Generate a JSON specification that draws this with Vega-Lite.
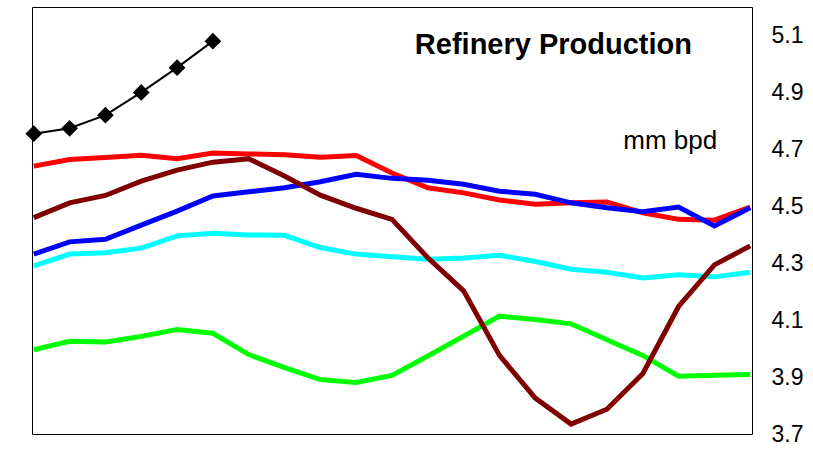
{
  "$schema": "https://vega.github.io/schema/vega-lite/v6.json",
  "width": 720,
  "height": 427,
  "autosize": "none",
  "padding": {"left": 32, "top": 7, "right": 61, "bottom": 15},
  "background": "white",
  "config": {"view": {"stroke": "black", "strokeWidth": 1}},
  "title": {"text": "Refinery Production", "anchor": "end", "frame": "group", "orient": "top", "offset": -76, "dx": -60, "baseline": "alphabetic", "fontSize": 29, "font": "Liberation Sans", "fontWeight": "bold", "color": "black"},
  "datasets": {
    "lines": [
      {"series": "green", "i": 0, "v": 3.996}, {"series": "green", "i": 1, "v": 4.026}, {"series": "green", "i": 2, "v": 4.023}, {"series": "green", "i": 3, "v": 4.043}, {"series": "green", "i": 4, "v": 4.067}, {"series": "green", "i": 5, "v": 4.054}, {"series": "green", "i": 6, "v": 3.979}, {"series": "green", "i": 7, "v": 3.933}, {"series": "green", "i": 8, "v": 3.891}, {"series": "green", "i": 9, "v": 3.881}, {"series": "green", "i": 10, "v": 3.906}, {"series": "green", "i": 11, "v": 3.974}, {"series": "green", "i": 12, "v": 4.044}, {"series": "green", "i": 13, "v": 4.114}, {"series": "green", "i": 14, "v": 4.102}, {"series": "green", "i": 15, "v": 4.087}, {"series": "green", "i": 16, "v": 4.031}, {"series": "green", "i": 17, "v": 3.976}, {"series": "green", "i": 18, "v": 3.903}, {"series": "green", "i": 19, "v": 3.906}, {"series": "green", "i": 20, "v": 3.909},
      {"series": "cyan", "i": 0, "v": 4.291}, {"series": "cyan", "i": 1, "v": 4.332}, {"series": "cyan", "i": 2, "v": 4.337}, {"series": "cyan", "i": 3, "v": 4.353}, {"series": "cyan", "i": 4, "v": 4.396}, {"series": "cyan", "i": 5, "v": 4.405}, {"series": "cyan", "i": 6, "v": 4.399}, {"series": "cyan", "i": 7, "v": 4.398}, {"series": "cyan", "i": 8, "v": 4.355}, {"series": "cyan", "i": 9, "v": 4.332}, {"series": "cyan", "i": 10, "v": 4.323}, {"series": "cyan", "i": 11, "v": 4.314}, {"series": "cyan", "i": 12, "v": 4.318}, {"series": "cyan", "i": 13, "v": 4.328}, {"series": "cyan", "i": 14, "v": 4.306}, {"series": "cyan", "i": 15, "v": 4.279}, {"series": "cyan", "i": 16, "v": 4.268}, {"series": "cyan", "i": 17, "v": 4.248}, {"series": "cyan", "i": 18, "v": 4.259}, {"series": "cyan", "i": 19, "v": 4.252}, {"series": "cyan", "i": 20, "v": 4.268},
      {"series": "red", "i": 0, "v": 4.641}, {"series": "red", "i": 1, "v": 4.664}, {"series": "red", "i": 2, "v": 4.671}, {"series": "red", "i": 3, "v": 4.679}, {"series": "red", "i": 4, "v": 4.667}, {"series": "red", "i": 5, "v": 4.687}, {"series": "red", "i": 6, "v": 4.684}, {"series": "red", "i": 7, "v": 4.681}, {"series": "red", "i": 8, "v": 4.672}, {"series": "red", "i": 9, "v": 4.678}, {"series": "red", "i": 10, "v": 4.617}, {"series": "red", "i": 11, "v": 4.565}, {"series": "red", "i": 12, "v": 4.547}, {"series": "red", "i": 13, "v": 4.522}, {"series": "red", "i": 14, "v": 4.507}, {"series": "red", "i": 15, "v": 4.512}, {"series": "red", "i": 16, "v": 4.515}, {"series": "red", "i": 17, "v": 4.477}, {"series": "red", "i": 18, "v": 4.454}, {"series": "red", "i": 19, "v": 4.451}, {"series": "red", "i": 20, "v": 4.497},
      {"series": "blue", "i": 0, "v": 4.332}, {"series": "blue", "i": 1, "v": 4.375}, {"series": "blue", "i": 2, "v": 4.384}, {"series": "blue", "i": 3, "v": 4.434}, {"series": "blue", "i": 4, "v": 4.483}, {"series": "blue", "i": 5, "v": 4.536}, {"series": "blue", "i": 6, "v": 4.551}, {"series": "blue", "i": 7, "v": 4.565}, {"series": "blue", "i": 8, "v": 4.586}, {"series": "blue", "i": 9, "v": 4.612}, {"series": "blue", "i": 10, "v": 4.598}, {"series": "blue", "i": 11, "v": 4.591}, {"series": "blue", "i": 12, "v": 4.577}, {"series": "blue", "i": 13, "v": 4.553}, {"series": "blue", "i": 14, "v": 4.542}, {"series": "blue", "i": 15, "v": 4.512}, {"series": "blue", "i": 16, "v": 4.495}, {"series": "blue", "i": 17, "v": 4.481}, {"series": "blue", "i": 18, "v": 4.497}, {"series": "blue", "i": 19, "v": 4.431}, {"series": "blue", "i": 20, "v": 4.495},
      {"series": "maroon", "i": 0, "v": 4.46}, {"series": "maroon", "i": 1, "v": 4.512}, {"series": "maroon", "i": 2, "v": 4.538}, {"series": "maroon", "i": 3, "v": 4.588}, {"series": "maroon", "i": 4, "v": 4.627}, {"series": "maroon", "i": 5, "v": 4.655}, {"series": "maroon", "i": 6, "v": 4.667}, {"series": "maroon", "i": 7, "v": 4.606}, {"series": "maroon", "i": 8, "v": 4.539}, {"series": "maroon", "i": 9, "v": 4.493}, {"series": "maroon", "i": 10, "v": 4.454}, {"series": "maroon", "i": 11, "v": 4.319}, {"series": "maroon", "i": 12, "v": 4.203}, {"series": "maroon", "i": 13, "v": 3.976}, {"series": "maroon", "i": 14, "v": 3.826}, {"series": "maroon", "i": 15, "v": 3.735}, {"series": "maroon", "i": 16, "v": 3.787}, {"series": "maroon", "i": 17, "v": 3.912}, {"series": "maroon", "i": 18, "v": 4.148}, {"series": "maroon", "i": 19, "v": 4.294}, {"series": "maroon", "i": 20, "v": 4.361}
    ],
    "black": [
      {"i": 0, "v": 4.755}, {"i": 1, "v": 4.774}, {"i": 2, "v": 4.82}, {"i": 3, "v": 4.9}, {"i": 4, "v": 4.987}, {"i": 5, "v": 5.08}
    ],
    "note": [
      {"label": "mm bpd"}
    ]
  },
  "layer": [
    {
      "data": {"name": "lines"},
      "mark": {"type": "line", "strokeWidth": 5, "strokeJoin": "miter", "strokeCap": "butt"},
      "encoding": {
        "x": {"field": "i", "type": "quantitative", "scale": {"domain": [-0.05, 20.05], "nice": false, "zero": false}, "axis": null},
        "y": {"field": "v", "type": "quantitative", "scale": {"domain": [3.7, 5.2], "nice": false, "zero": false},
              "axis": {"orient": "right", "values": [3.7, 3.9, 4.1, 4.3, 4.5, 4.7, 4.9, 5.1], "format": ".1f", "grid": false, "ticks": false, "domain": false, "labelPadding": 19, "labelFontSize": 23, "labelFont": "Liberation Sans", "labelColor": "black", "title": null, "labelAlign": "left", "labelBaseline": "middle"}},
        "color": {"field": "series", "type": "nominal", "scale": {"domain": ["green", "cyan", "red", "blue", "maroon"], "range": ["#00FF00", "#00FFFF", "#FF0000", "#0000FF", "#800000"]}, "legend": null},
        "order": {"field": "i", "type": "quantitative"}
      }
    },
    {
      "data": {"name": "black"},
      "mark": {"type": "line", "color": "black", "strokeWidth": 2, "point": {"shape": "diamond", "size": 280, "filled": true, "color": "black"}},
      "encoding": {
        "x": {"field": "i", "type": "quantitative"},
        "y": {"field": "v", "type": "quantitative"}
      }
    },
    {
      "data": {"name": "note"},
      "mark": {"type": "text", "align": "right", "baseline": "alphabetic", "fontSize": 26, "font": "Liberation Sans", "color": "black"},
      "encoding": {
        "text": {"field": "label", "type": "nominal"},
        "x": {"datum": 19.08, "type": "quantitative"},
        "y": {"datum": 4.70, "type": "quantitative"}
      }
    }
  ]
}
